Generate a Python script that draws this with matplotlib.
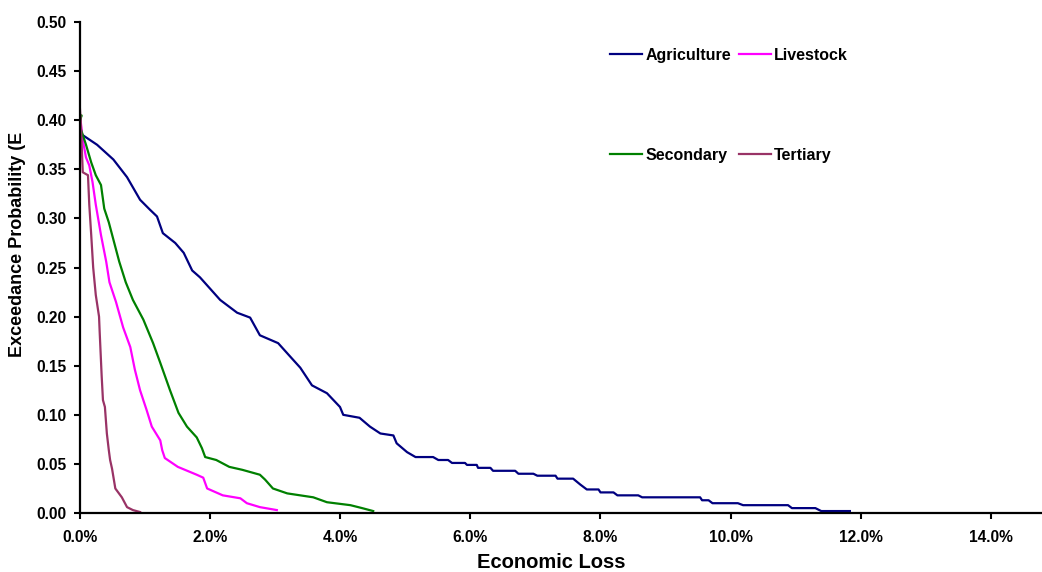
import matplotlib
matplotlib.use("Agg")
import matplotlib.pyplot as plt
from matplotlib.ticker import FuncFormatter, MultipleLocator

plt.rcParams["font.family"] = ["Liberation Sans", "DejaVu Sans"]
plt.rcParams["font.weight"] = "bold"

# economic loss in %, exceedance probability
agri_loss = [0.0, 0.0, 0.27, 0.52, 0.73, 0.93, 1.08, 1.19, 1.28, 1.47, 1.60, 1.73,
             1.85, 2.16, 2.42, 2.62, 2.77, 3.05, 3.24, 3.39, 3.57, 3.80, 4.00, 4.05,
             4.30, 4.46, 4.62, 4.82, 4.87, 5.03, 5.16, 5.43, 5.51, 5.66, 5.72, 5.92,
             5.95, 6.10, 6.12, 6.31, 6.35, 6.69, 6.74, 6.97, 7.03, 7.31, 7.34, 7.58,
             7.69, 7.79, 7.97, 8.00, 8.20, 8.26, 8.58, 8.64, 9.53, 9.56, 9.66, 9.72,
             10.11, 10.19, 10.88, 10.94, 11.30, 11.39, 11.83]
agri_prob = [0.392, 0.387, 0.375, 0.360, 0.342, 0.319, 0.309, 0.302, 0.285, 0.275, 0.265, 0.247,
             0.240, 0.217, 0.204, 0.199, 0.181, 0.173, 0.159, 0.148, 0.130, 0.122, 0.108, 0.100,
             0.097, 0.088, 0.081, 0.079, 0.071, 0.062, 0.057, 0.057, 0.054, 0.054, 0.051, 0.051,
             0.049, 0.049, 0.046, 0.046, 0.043, 0.043, 0.040, 0.040, 0.038, 0.038, 0.035, 0.035,
             0.029, 0.024, 0.024, 0.021, 0.021, 0.018, 0.018, 0.016, 0.016, 0.013, 0.013, 0.010,
             0.010, 0.008, 0.008, 0.005, 0.005, 0.002, 0.002]

live_loss = [0.0, 0.05, 0.10, 0.15, 0.20, 0.25, 0.33, 0.41, 0.46, 0.56, 0.67, 0.78,
             0.85, 0.93, 1.03, 1.11, 1.24, 1.27, 1.31, 1.51, 1.80, 1.90, 1.96, 2.20,
             2.47, 2.57, 2.77, 3.03]
live_prob = [0.410, 0.380, 0.362, 0.354, 0.337, 0.314, 0.283, 0.256, 0.235, 0.215, 0.189, 0.169,
             0.146, 0.125, 0.105, 0.088, 0.074, 0.064, 0.056, 0.047, 0.039, 0.036, 0.025, 0.018,
             0.015, 0.010, 0.006, 0.003]

sec_loss = [0.0, 0.03, 0.0, 0.10, 0.18, 0.25, 0.33, 0.38, 0.45, 0.53, 0.61, 0.71,
            0.82, 0.98, 1.13, 1.24, 1.39, 1.52, 1.65, 1.80, 1.88, 1.93, 2.10, 2.30,
            2.50, 2.77, 2.85, 2.97, 3.19, 3.59, 3.80, 4.16, 4.34, 4.51]
sec_prob = [0.400, 0.405, 0.395, 0.375, 0.357, 0.344, 0.334, 0.310, 0.296, 0.276, 0.256, 0.235,
            0.217, 0.197, 0.173, 0.153, 0.125, 0.102, 0.088, 0.077, 0.066, 0.057, 0.054, 0.047,
            0.044, 0.039, 0.034, 0.025, 0.020, 0.016, 0.011, 0.008, 0.005, 0.002]

tert_loss = [0.0, 0.02, 0.05, 0.13, 0.15, 0.18, 0.21, 0.25, 0.30, 0.31, 0.34, 0.36,
             0.39, 0.42, 0.45, 0.47, 0.50, 0.55, 0.65, 0.73, 0.82, 0.93]
tert_prob = [0.419, 0.397, 0.347, 0.344, 0.314, 0.283, 0.250, 0.222, 0.200, 0.184, 0.140, 0.115,
             0.108, 0.081, 0.064, 0.054, 0.045, 0.025, 0.016, 0.006, 0.003, 0.001]

fig = plt.figure(figsize=(10.42, 5.72), dpi=100)
ax = fig.add_axes([0.0763, 0.1031, 0.9237, 0.8584])

ax.plot(agri_loss, agri_prob, color="#000080", lw=1.6, label="Agriculture")
ax.plot(live_loss, live_prob, color="#FF00FF", lw=1.6, label="Livestock")
ax.plot(sec_loss, sec_prob, color="#008000", lw=1.6, label="Secondary")
ax.plot(tert_loss, tert_prob, color="#993366", lw=1.6, label="Tertiary")

ax.set_xlim(0, 14.78)
ax.set_ylim(0, 0.5)
ax.xaxis.set_major_locator(MultipleLocator(2))
ax.yaxis.set_major_locator(MultipleLocator(0.05))
ax.xaxis.set_major_formatter(FuncFormatter(lambda v, p: f"{v:.1f}%"))
ax.yaxis.set_major_formatter(FuncFormatter(lambda v, p: f"{v:.2f}"))

for s in ["top", "right"]:
    ax.spines[s].set_visible(False)
for s in ["left", "bottom"]:
    ax.spines[s].set_linewidth(1.6)
    ax.spines[s].set_color("black")
ax.tick_params(axis="both", direction="out", length=4, width=1.5,
               labelsize=11.2, colors="black")
ax.tick_params(axis="y", pad=5.5)
ax.tick_params(axis="x", pad=8)

ax.set_xlabel("Economic Loss", fontsize=14.5, fontweight="bold")
ax.xaxis.set_label_coords(0.49, -0.082)
ax.set_ylabel("Exceedance Probability (E", fontsize=13, fontweight="bold")
ax.yaxis.set_label_coords(-0.056, 0.548)

h, l = ax.get_legend_handles_labels()
order = [0, 2, 1, 3]
fig.legend([h[i] for i in order], [l[i] for i in order], ncol=2,
           loc="upper left", bbox_to_anchor=(0.5854, 0.916), frameon=False,
           fontsize=11.5, borderpad=0, borderaxespad=0, handlelength=2.0,
           handletextpad=0.2, columnspacing=0.5, labelspacing=5.3)

fig.savefig("out.png", dpi=100)
